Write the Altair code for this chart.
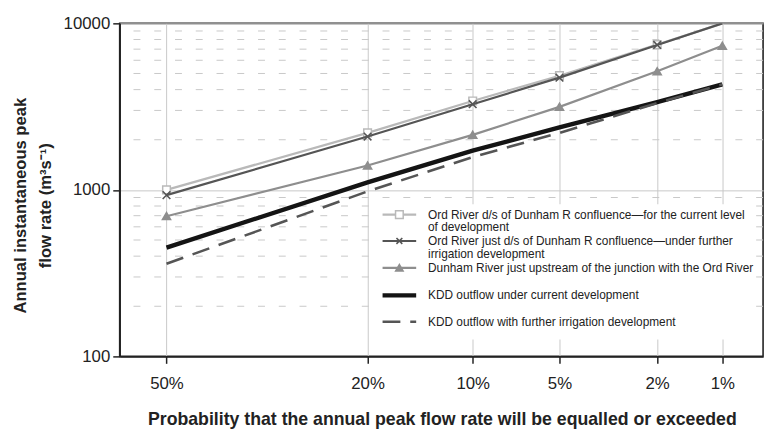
import altair as alt
import pandas as pd
from statistics import NormalDist

# ---------------- data ----------------
exceed_pct = [50, 20, 10, 5, 2, 1]
tick_labels = ["50%", "20%", "10%", "5%", "2%", "1%"]

ord_current = [1000, 2200, 3420, 4850, 7450, 10000]
ord_further = [930, 2090, 3270, 4720, 7420, 10000]
dunham = [695, 1400, 2140, 3150, 5150, 7330]
kdd_current = [450, 1110, 1720, 2370, 3360, 4300]
kdd_further = [360, 980, 1575, 2200, 3320, 4300]

series_keys = ["ord_current", "ord_further", "dunham", "kdd_current", "kdd_further"]
series_values = [ord_current, ord_further, dunham, kdd_current, kdd_further]
legend_text = [
    ["Ord River d/s of Dunham R confluence\u2014for the current level", "of development"],
    ["Ord River just d/s of Dunham R confluence\u2014under further", "irrigation development"],
    ["Dunham River just upstream of the junction with the Ord River"],
    ["KDD outflow under current development"],
    ["KDD outflow with further irrigation development"],
]

y_major = [100, 1000, 10000]
y_minor = [200, 300, 400, 500, 600, 700, 800, 900,
           2000, 3000, 4000, 5000, 6000, 7000, 8000, 9000]

# normal-probability x positions
nd = NormalDist()
z_pos = [nd.inv_cdf(1 - p / 100) for p in exceed_pct]

rows = []
for key, vals in zip(series_keys, series_values):
    for p, z, v in zip(exceed_pct, z_pos, vals):
        rows.append({"series": key, "pct": p, "z": z, "value": v})
df = pd.DataFrame(rows)

# ---------------- styles ----------------
XPATH = "M-1,-1L1,1M-1,1L1,-1"
styles = {
    "ord_current": dict(color="#b9b9b9", width=2.2, dash=None, shape="square"),
    "ord_further": dict(color="#555555", width=2.2, dash=None, shape=XPATH),
    "dunham": dict(color="#8e8e8e", width=2.2, dash=None, shape="triangle-up"),
    "kdd_current": dict(color="#141414", width=4.4, dash=None, shape=None),
    "kdd_further": dict(color="#555555", width=2.6, dash=[18, 10], shape=None),
}

FONT = "Liberation Sans"
LEG_FONT = "Liberation Sans"
GRID = "#c8c8c8"
X_DOMAIN = [-0.196, 2.497]
LOG_SCALE = alt.Scale(type="log", domain=[100, 10000], nice=False)

# label expression for probability axis
expr = "''"
for z, lab in reversed(list(zip(z_pos, tick_labels))):
    expr = f"abs(datum.value - {z:.5f}) < 0.01 ? '{lab}' : ({expr})"

x_enc = alt.X(
    "z:Q",
    scale=alt.Scale(domain=X_DOMAIN, nice=False, zero=False),
    axis=alt.Axis(
        values=z_pos, labelExpr=expr, grid=True, gridColor=GRID, gridWidth=1,
        tickSize=7, tickColor="#222", tickWidth=1.5, labelPadding=12,
        labelFontSize=17, labelFont=FONT, labelColor="#222",
        domainColor="#222", domainWidth=1.6,
        title="Probability that the annual peak flow rate will be equalled or exceeded",
        titleFont=FONT, titleFontSize=17.9, titleFontWeight="bold", titleColor="#222",
        titleX=326, titleY=69, titleBaseline="alphabetic", titleAlign="center",
    ),
)
y_enc = alt.Y(
    "value:Q",
    scale=LOG_SCALE,
    axis=alt.Axis(
        values=y_major, format="d", grid=True, gridColor=GRID, gridWidth=1,
        tickSize=7, tickColor="#222", tickWidth=1.5, labelPadding=3,
        labelFontSize=17, labelFont=FONT, labelColor="#222",
        domainColor="#222", domainWidth=1.6,
        title=["Annual instantaneous peak", "flow rate (m\u00b3s\u207b\u00b9)"],
        titleFont=FONT, titleFontSize=16.8, titleFontWeight="bold", titleColor="#222",
        titleX=-91, titleY=184, titleAlign="center", titleBaseline="bottom",
        titleLineHeight=25, titleAngle=-90,
    ),
)

layers = []

# minor dashed gridlines
minor_df = pd.DataFrame({"value": y_minor})
layers.append(
    alt.Chart(minor_df).mark_rule(color=GRID, strokeWidth=1, strokeDash=[7, 14]).encode(
        y=alt.Y("value:Q", scale=LOG_SCALE)
    )
)

# legend background (covers gridlines)
one = pd.DataFrame({"k": [0]})
layers.append(
    alt.Chart(one).mark_rect(fill="white").encode(
        x=alt.value(262), x2=alt.value(636), y=alt.value(183), y2=alt.value(320)
    )
)

base = alt.Chart(df)
# invisible layer that carries the axes
layers.append(base.mark_point(opacity=0).encode(x=x_enc, y=y_enc))


def point_kwargs(key, legend=False):
    st = styles[key]
    if key == "ord_current":
        return dict(shape="square", filled=True, fill="white", stroke=st["color"],
                    strokeWidth=1.5, size=60, opacity=1)
    if key == "ord_further":
        return dict(shape=XPATH, filled=False, stroke=st["color"], strokeWidth=1.6,
                    size=60 if not legend else 35, opacity=1)
    return dict(shape="triangle-up", filled=True, fill=st["color"], stroke=st["color"],
                size=55 if not legend else 45, opacity=1)


for key in series_keys:
    st = styles[key]
    sub = base.transform_filter(f"datum.series == '{key}'")
    kw = dict(color=st["color"], strokeWidth=st["width"], clip=True)
    if st["dash"]:
        kw["strokeDash"] = st["dash"]
    layers.append(sub.mark_line(**kw).encode(x="z:Q", y="value:Q"))
    if st["shape"]:
        layers.append(
            sub.transform_filter("datum.value < 10000")
            .mark_point(clip=True, **point_kwargs(key))
            .encode(x="z:Q", y="value:Q")
        )

# legend entries
leg_y = [193.5, 220.2, 247.5, 275.2, 302.0]
LH = 13
for key, lines, yy in zip(series_keys, legend_text, leg_y):
    st = styles[key]
    rk = dict(color=st["color"], strokeWidth=st["width"])
    if st["dash"]:
        rk["strokeDash"] = st["dash"]
    layers.append(
        alt.Chart(one).mark_rule(**rk).encode(x=alt.value(266), x2=alt.value(300), y=alt.value(yy))
    )
    if st["shape"]:
        layers.append(
            alt.Chart(one).mark_point(**point_kwargs(key, legend=True))
            .encode(x=alt.value(283), y=alt.value(yy))
        )
    layers.append(
        alt.Chart(one).mark_text(
            text=lines, align="left", baseline="middle", font=LEG_FONT, fontSize=12,
            lineHeight=LH, color="#222",
        ).encode(x=alt.value(312), y=alt.value(yy))
    )

chart = alt.layer(*layers).properties(
    width=651, height=337,
    autosize=alt.AutoSizeParams(type="none"),
    padding={"left": 113, "top": 13, "right": 6, "bottom": 78},
    background="white",
).configure_view(stroke="#222", strokeWidth=1.6)

chart.save("out.html", embed_options={"renderer": "svg", "actions": False})
